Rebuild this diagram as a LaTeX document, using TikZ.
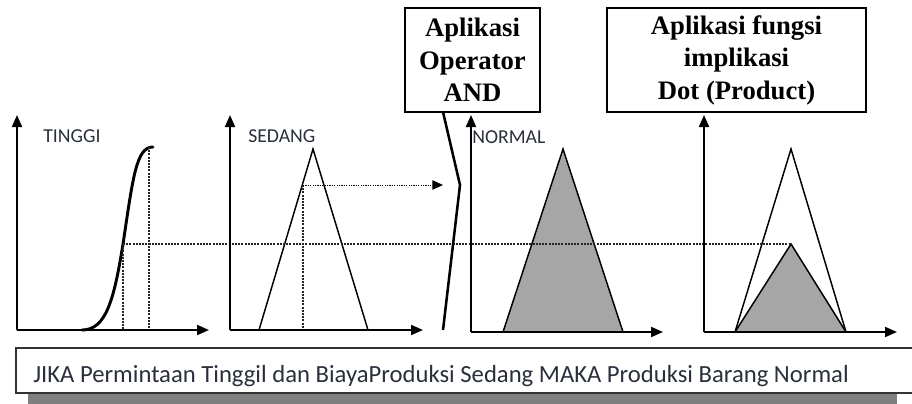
\documentclass[tikz,border=0pt]{standalone}
\usepackage{fontspec}
\setmainfont{Liberation Serif}
\newfontfamily\lblfont{Carlito}
\usetikzlibrary{arrows.meta}
\definecolor{txtc}{HTML}{2A2F3C}
\definecolor{fillg}{HTML}{A6A6A6}
\definecolor{shadowg}{HTML}{7F7F7F}
\begin{document}
\begin{tikzpicture}[x=0.75pt,y=-0.75pt,
  axis/.style={line width=1.5pt,-{Triangle[length=9pt,width=7.5pt]}},
  tri/.style={line width=1.1pt,line join=miter},
  guide/.style={line width=0.8pt,dash pattern=on 1.5pt off 0.9pt,black!85},
  headbox/.style={draw,line width=1.4pt,inner sep=0pt,align=center,
     font=\fontsize{20}{24.4}\selectfont\bfseries},
  setlabel/.style={anchor=west,inner sep=0pt,text=txtc,font=\lblfont\fontsize{14.8}{16}\selectfont},
]
\useasboundingbox (0,0) rectangle (912,403);

% header boxes
\node[headbox,minimum width=101.25pt,minimum height=78pt] (andbox) at (472.5,60) {Aplikasi\\Operator\\AND};
\node[headbox,minimum width=194.25pt,minimum height=78pt] (prodbox) at (736.5,60) {Aplikasi fungsi\\implikasi\\Dot (Product)};

% axes origins and ends
\coordinate (o1) at (17,330);  \coordinate (x1) at (209,330);  \coordinate (y1) at (17,115);
\coordinate (o2) at (230,330); \coordinate (x2) at (423,330);  \coordinate (y2) at (230,115);
\coordinate (o3) at (471,332); \coordinate (x3) at (663,332);  \coordinate (y3) at (471,115);
\coordinate (o4) at (704,332); \coordinate (x4) at (897,332);  \coordinate (y4) at (704,115);

% shapes (fills first)
\coordinate (nl) at (503,332); \coordinate (nt) at (563,149); \coordinate (nr) at (623,332);
\fill[fillg] (nl) -- (nt) -- (nr) -- cycle;
\draw[tri] (nl) -- (nt) -- (nr);
\coordinate (pl) at (735,332); \coordinate (pt) at (791,149); \coordinate (pr) at (846,332);
\coordinate (pc) at (791,244);
\draw[tri] (pl) -- (pt) -- (pr);
\filldraw[tri,fill=fillg] (pl) -- (pc) -- (pr) -- cycle;

\coordinate (sl) at (259,330); \coordinate (st) at (313,149); \coordinate (sr) at (368,330);
\draw[tri] (sl) -- (st) -- (sr);

% S-curve
\coordinate (c0) at (82,330); \coordinate (cm) at (123,244); \coordinate (c1) at (153,147);
\draw[line width=2.2pt,line cap=round] (c0) .. controls (106,330) and (114,300) .. (cm)
   .. controls (133,178) and (136,147) .. (c1);

% guides
\draw[guide] (cm) -- (123,330);
\draw[guide] (149,147) -- (149,330);
\draw[guide] (cm) -- (pc);
\coordinate (sh) at (303,185);
\draw[guide] (sh) -- (303,330);
\coordinate (arrowend) at (443,185);
\draw[line width=0.75pt,dash pattern=on 0.9pt off 0.9pt,-{Triangle[length=8pt,width=7pt]}] (sh) -- (arrowend);

% axes
\draw[axis] (o1) -- (x1); \draw[axis] (o1) -- (y1);
\draw[axis] (o2) -- (x2); \draw[axis] (o2) -- (y2);
\draw[axis] (o3) -- (x3); \draw[axis] (o3) -- (y3);
\draw[axis] (o4) -- (x4); \draw[axis] (o4) -- (y4);

% slash
\coordinate (k1) at (443,112); \coordinate (k2) at (460,185); \coordinate (k3) at (443,330);
\draw[line width=1.9pt,line join=miter] (k1) -- (k2) -- (k3);

% labels
\node[setlabel] (ltinggi) at (43,136) {TINGGI};
\node[setlabel] (lsedang) at (248,136) {SEDANG};
\node[setlabel] (lnormal) at (472,137) {NORMAL};

% rule box
\fill[shadowg] (28,393) rectangle (897,404);
\draw[line width=1.5pt,black!80] (913,348) -- (16,348) -- (16,393) -- (913,393);
\node[anchor=west,inner sep=0pt,text=txtc,font=\lblfont\fontsize{18.5}{20}\selectfont] (rule) at (33,376)
  {JIKA Permintaan Tinggil dan BiayaProduksi Sedang MAKA Produksi Barang Normal};
\end{tikzpicture}
\end{document}
